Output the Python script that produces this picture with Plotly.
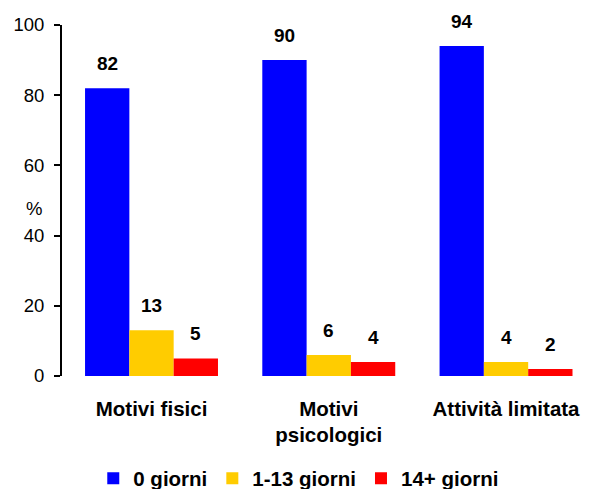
import plotly.graph_objects as go

categories = ["Motivi fisici", "Motivi<br>psicologici", "Attività limitata"]
series_names = ["0 giorni", "1-13 giorni", "14+ giorni"]
val_0 = [82, 90, 94]
val_1_13 = [13, 6, 4]
val_14 = [5, 4, 2]
y_ticks = [0, 20, 40, 60, 80, 100]

colors = ["#0000FF", "#FFCC00", "#FF0000"]
series_vals = [val_0, val_1_13, val_14]

FONT = "Liberation Sans, Arial, sans-serif"

fig = go.Figure()
for name, vals, col in zip(series_names, series_vals, colors):
    fig.add_trace(go.Bar(name=name, x=categories, y=vals, marker_color=col,
                         marker_line_width=0))

bar_px = 44.3
annotations = []
for i, vals in enumerate(series_vals):
    for cat, v in zip(categories, vals):
        annotations.append(dict(x=cat, y=v, xref="x", yref="y", text=str(v),
                                showarrow=False, yanchor="bottom",
                                xshift=(i - 1) * bar_px, yshift=12,
                                font=dict(family=FONT, size=19, color="black", weight="bold")))
annotations.append(dict(x=-0.053, y=47.6, xref="paper", yref="y", text="%",
                        showarrow=False, xanchor="center", yanchor="middle",
                        font=dict(family=FONT, size=18.5, color="black")))

fig.update_layout(
    width=584, height=481,
    margin=dict(l=54, r=0, t=17, b=113, autoexpand=False),
    paper_bgcolor="white", plot_bgcolor="white",
    barmode="group", bargap=0.25, bargroupgap=0,
    font=dict(family=FONT, size=18, color="black"),
    annotations=annotations,
    showlegend=True,
    legend=dict(orientation="h", x=0.059, xanchor="left", y=-0.292, yanchor="middle",
                font=dict(family=FONT, size=20.5, color="black", weight="bold"),
                itemwidth=30, traceorder="normal"),
    xaxis=dict(showline=False, showgrid=False, ticks="", range=[-0.505, 2.485],
               automargin=False,
               tickfont=dict(family=FONT, size=20.5, color="black", weight="bold"),
               ticklabelstandoff=18),
    yaxis=dict(range=[0, 100], tickvals=y_ticks, showgrid=False, zeroline=False,
               automargin=False,
               showline=True, linecolor="black", linewidth=2,
               ticks="outside", ticklen=6, tickwidth=2, tickcolor="black",
               tickfont=dict(family=FONT, size=18.5, color="black"),
               ticklabelstandoff=6),
)

fig.write_html("out.html")
